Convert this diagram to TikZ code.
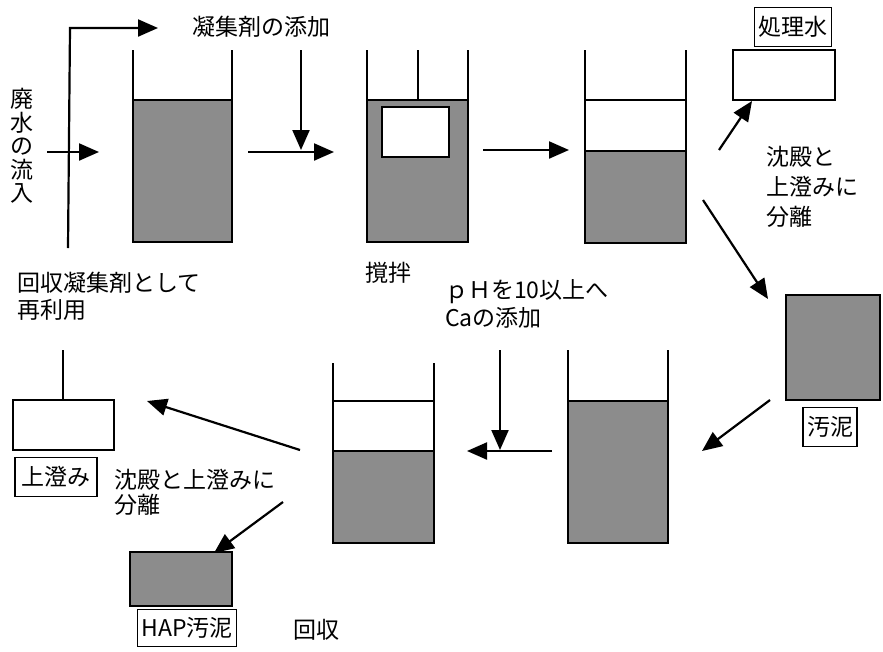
\documentclass[tikz,border=0pt]{standalone}
\usepackage{fontspec}
\newfontfamily\jp{Noto Sans CJK JP}
\usetikzlibrary{arrows.meta}
\definecolor{sludgegray}{RGB}{140,140,140}
\begin{document}
\begin{tikzpicture}[x=1pt,y=-1pt,
  wall/.style={line width=2.2pt},
  sludge/.style={draw=black, fill=sludgegray, line width=2.2pt, outer sep=0pt, inner sep=0pt, anchor=north west},
  clear/.style={draw=black, fill=white, line width=2.2pt, outer sep=0pt, inner sep=0pt, anchor=north west},
  flow/.style={line width=2.2pt, -{Triangle[length=20pt,width=17pt]}},
  txt/.style={font=\jp\fontsize{23pt}{27pt}\selectfont, inner sep=0pt},
  tag/.style={txt, draw=black, line width=1.2pt, inner xsep=4pt, minimum height=39pt}
]
\useasboundingbox (0,0) rectangle (883,651);

% ---- tank 1 ----
\node[sludge, minimum width=99pt, minimum height=142pt] (t1) at (133,100) {};
\draw[wall] (133,50) -- (t1.south west) -- (t1.south east) -- (232,50);

% ---- tank 2 (stirring) ----
\node[sludge, minimum width=101pt, minimum height=142pt] (t2) at (367,100) {};
\draw[wall] (367,50) -- (t2.south west) -- (t2.south east) -- (468,50);
\node[clear, minimum width=67pt, minimum height=50pt] (mix) at (382,107) {};
\draw[wall] (418,50) -- (t2.north -| 418,0);

% ---- tank 3 (separation) ----
\node[sludge, minimum width=101pt, minimum height=92pt] (t3) at (585,151) {};
\draw[wall] (585,50) -- (t3.south west) -- (t3.south east) -- (686,50);
\draw[wall] (585,100) -- (686,100);

% ---- treated water ----
\node[clear, minimum width=102pt, minimum height=50pt] (tw) at (733,50) {};
\node[tag] (twl) at (793,27) {処理水};

% ---- sludge ----
\node[sludge, minimum width=94pt, minimum height=105pt] (sl) at (786,295) {};
\node[tag] (sll) at (830,427) {汚泥};

% ---- tank 5 (Ca addition) ----
\node[sludge, minimum width=100pt, minimum height=142pt] (t5) at (568,401) {};
\draw[wall] (568,350) -- (t5.south west) -- (t5.south east) -- (668,350);

% ---- tank 4 (separation) ----
\node[sludge, minimum width=101pt, minimum height=92pt] (t4) at (333,451) {};
\draw[wall] (333,363) -- (t4.south west) -- (t4.south east) -- (434,363);
\draw[wall] (333,401) -- (434,401);

% ---- supernatant ----
\node[clear, minimum width=101pt, minimum height=50pt] (sup) at (13,400) {};
\draw[wall] (63,350) -- (sup.north -| 63,0);
\node[tag, minimum width=82pt] (supl) at (56,477) {上澄み};

% ---- HAP sludge ----
\node[sludge, minimum width=102pt, minimum height=54pt] (hap) at (130,552) {};
\node[tag, minimum height=37pt] (hapl) at (187,628) {HAP汚泥};
\node[txt] (rec) at (316,630) {回収};

% ---- texts ----
\node[txt, align=center, font=\jp\fontsize{23pt}{23.5pt}\selectfont] (inflow) at (22,146) {廃\\水\\の\\流\\入};
\node[txt] (coag) at (261,27) {凝集剤の添加};
\node[txt] (stir) at (388,273) {撹拌};
\node[txt, align=left, anchor=north west, font=\jp\fontsize{23pt}{30pt}\selectfont] (sep1) at (766,146) {沈殿と\\上澄みに\\分離};
\node[txt, align=left, anchor=north west, font=\jp\fontsize{23pt}{27pt}\selectfont] (reuse) at (17,272) {回収凝集剤として\\再利用};
\node[txt, align=left, anchor=north west, font=\jp\fontsize{23pt}{28pt}\selectfont] (ph) at (445,279) {ｐＨを10以上へ\\Caの添加};
\node[txt, align=left, anchor=north west, font=\jp\fontsize{23pt}{25pt}\selectfont] (sep2) at (114,469) {沈殿と上澄みに\\分離};

% ---- connector end points ----
\coordinate (a1s) at (47,152);   \coordinate (a1e) at (99,152);
\coordinate (r0) at (68,248);    \coordinate (r1) at (70,28);   \coordinate (r2) at (158,28);
\coordinate (a3s) at (248,152);  \coordinate (a3e) at (334,152);
\coordinate (a4s) at (301,50);   \coordinate (a4e) at (301,150);
\coordinate (a5s) at (483,150);  \coordinate (a5e) at (569,150);
\coordinate (a6s) at (719,150);  \coordinate (a6e) at (752,101);
\coordinate (a7s) at (703,200);  \coordinate (a7e) at (768,299);
\coordinate (a8s) at (770,400);  \coordinate (a8e) at (702,451);
\coordinate (a9s) at (552,451);  \coordinate (a9e) at (467,451);
\coordinate (a10s) at (500,350); \coordinate (a10e) at (500,450);
\coordinate (a11s) at (300,450); \coordinate (a11e) at (147,401);
\coordinate (a12s) at (283,502); \coordinate (a12e) at (214,553);

% ---- connectors ----
\draw[flow] (a1s) -- (a1e);
\draw[flow] (r0) -- (r1) -- (r2);
\draw[flow] (a3s) -- (a3e);
\draw[flow] (a4s) -- (a4e);
\draw[flow] (a5s) -- (a5e);
\draw[flow] (a6s) -- (a6e);
\draw[flow] (a7s) -- (a7e);
\draw[flow] (a8s) -- (a8e);
\draw[flow] (a9s) -- (a9e);
\draw[flow] (a10s) -- (a10e);
\draw[flow] (a11s) -- (a11e);
\draw[flow] (a12s) -- (a12e);
\end{tikzpicture}
\end{document}
